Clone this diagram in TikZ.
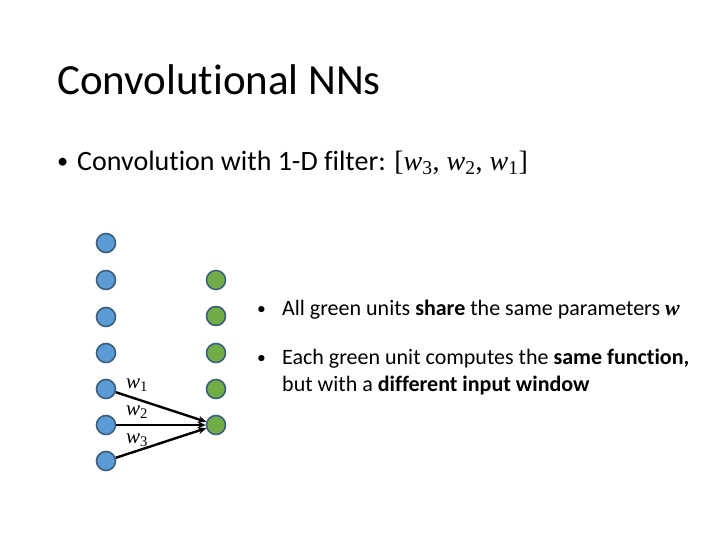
\documentclass[tikz,border=0pt]{standalone}
\usepackage{fontspec}
\setmainfont[RawFeature=-liga]{Carlito}
\newfontfamily\mathlike{Liberation Serif}
\newcommand{\wvar}[1]{{\mathlike\itshape w}\textsubscript{\mathlike #1}}
\newcommand{\smallbullet}{\raisebox{0.12ex}{\scalebox{0.8}{\textbullet}}}
\usetikzlibrary{arrows.meta}
\definecolor{bluefill}{RGB}{91,155,213}
\definecolor{greenfill}{RGB}{112,173,71}
\definecolor{ringcol}{RGB}{62,95,125}
\tikzset{
  x=1pt,y=-1pt,
  blueunit/.style={circle,fill=bluefill,draw=ringcol,line width=1.6pt,minimum size=19pt,inner sep=0pt},
  greenunit/.style={circle,fill=greenfill,draw=ringcol,line width=1.6pt,minimum size=19pt,inner sep=0pt},
  conn/.style={line width=2.4pt,-{Stealth[length=8pt,width=7pt]}},
  wlabel/.style={inner sep=0pt,font=\fontsize{21}{24}\selectfont},
  bodytext/.style={anchor=west,inner sep=0pt,align=left,font=\fontsize{22}{27}\selectfont}
}
\begin{document}
\begin{tikzpicture}
\useasboundingbox[fill=white] (0,0) rectangle (720,540);
\node[anchor=base west,inner sep=0pt,font=\fontsize{43}{50}\selectfont] (title) at (57,95) {Convolutional NNs};
\node[anchor=west,inner sep=0pt,font=\fontsize{28}{33}\selectfont] (b1) at (57,163) {\makebox[20pt][l]{\smallbullet}Convolution with 1-D filter: {\mathlike[\wvar{3}, \wvar{2}, \wvar{1}]}};
\foreach \i/\y in {1/243,2/280,3/317,4/353,5/389,6/425,7/461}{
  \node[blueunit] (b\i) at (106,\y) {};
}
\foreach \i/\y in {1/280,2/316,3/353,4/389,5/425}{
  \node[greenunit] (g\i) at (216,\y) {};
}
\draw[conn] (b5) -- (g5);
\draw[conn] (b6) -- (g5);
\draw[conn] (b7) -- (g5);
\node[wlabel] (w1) at (137,385) {\wvar{1}};
\node[wlabel] (w2) at (137,412) {\wvar{2}};
\node[wlabel] (w3) at (137,440) {\wvar{3}};
\node[bodytext] (t1) at (257,310) {\makebox[25pt][l]{\smallbullet}All green units \textbf{share} the same parameters {\mathlike\bfseries\itshape w}};
\node[bodytext,anchor=north west] (t2) at (257,349) {\makebox[25pt][l]{\smallbullet}Each green unit computes the \textbf{same function,}\\\hspace*{25pt}but with a \textbf{different input window}};
\end{tikzpicture}
\end{document}
